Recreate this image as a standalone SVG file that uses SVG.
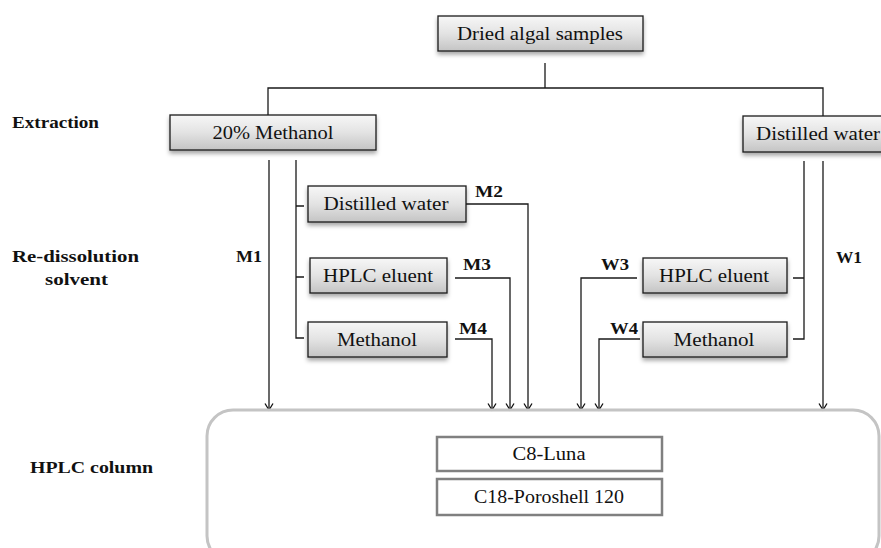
<svg xmlns="http://www.w3.org/2000/svg" width="881" height="548" viewBox="0 0 881 548">
<defs>
<linearGradient id="g" x1="0" y1="0" x2="0" y2="1">
<stop offset="0" stop-color="#f7f7f7"/>
<stop offset="0.5" stop-color="#e3e3e3"/>
<stop offset="1" stop-color="#c4c4c4"/>
</linearGradient>
<filter id="sh" x="-10%" y="-20%" width="120%" height="160%">
<feDropShadow dx="0" dy="3" stdDeviation="2" flood-color="#000" flood-opacity="0.35"/>
</filter>
<marker id="ar" markerWidth="10" markerHeight="10" refX="8.5" refY="5" orient="auto" markerUnits="userSpaceOnUse" viewBox="0 0 10 10">
<path d="M2,1 L8.5,5 L2,9" fill="none" stroke="#111" stroke-width="1.3"/>
</marker>
</defs>
<style>
.box{fill:url(#g);stroke:#1a1a1a;stroke-width:1.3;filter:url(#sh)}
.col{fill:#fff;stroke:#808080;stroke-width:2.5}
.t{font-family:"Liberation Serif","Times New Roman",serif;font-size:19px;fill:#111;text-anchor:middle}
.b{font-family:"Liberation Serif","Times New Roman",serif;font-size:17px;font-weight:bold;fill:#111}
.ln{fill:none;stroke:#1a1a1a;stroke-width:1.3}
.arr{marker-end:url(#ar)}
</style>
<rect width="881" height="548" fill="#fff"/>

<g id="labels">
<text class="b" x="12" y="128" textLength="87" lengthAdjust="spacingAndGlyphs">Extraction</text>
<text class="b" x="12" y="262" textLength="127" lengthAdjust="spacingAndGlyphs">Re-dissolution</text>
<text class="b" x="45" y="285" textLength="63" lengthAdjust="spacingAndGlyphs">solvent</text>
<text class="b" x="30" y="473" textLength="123" lengthAdjust="spacingAndGlyphs">HPLC column</text>
<text class="b" x="236" y="262" textLength="26" lengthAdjust="spacingAndGlyphs">M1</text>
<text class="b" x="475" y="197" textLength="28" lengthAdjust="spacingAndGlyphs">M2</text>
<text class="b" x="463" y="270" textLength="28" lengthAdjust="spacingAndGlyphs">M3</text>
<text class="b" x="459" y="334" textLength="28" lengthAdjust="spacingAndGlyphs">M4</text>
<text class="b" x="601" y="270" textLength="28" lengthAdjust="spacingAndGlyphs">W3</text>
<text class="b" x="610" y="334" textLength="28" lengthAdjust="spacingAndGlyphs">W4</text>
<text class="b" x="836" y="263" textLength="26" lengthAdjust="spacingAndGlyphs">W1</text>
</g>

<g id="connectors">
<path class="ln" d="M545,63 V88 M268,115 V88 H823 V116"/>
<path class="ln arr" d="M269,160 V410"/>
<path class="ln" d="M296,160 V338 H304 M296,206 H304 M296,277 H304"/>
<path class="ln arr" d="M466,204 H528 V410"/>
<path class="ln arr" d="M455,278 H510 V410"/>
<path class="ln arr" d="M455,339 H492 V410"/>
<path class="ln arr" d="M637,278 H581 V410"/>
<path class="ln arr" d="M640,339 H599 V410"/>
<path class="ln" d="M804,161 V339 H793 M804,278 H793"/>
<path class="ln arr" d="M823,161 V410"/>
</g>

<g id="n-dried"><rect class="box" x="438" y="16" width="205" height="35"/><text class="t" x="540" y="40" textLength="166" lengthAdjust="spacingAndGlyphs">Dried algal samples</text></g>
<g id="n-meth20"><rect class="box" x="170" y="115" width="206" height="35"/><text class="t" x="273" y="139" textLength="121" lengthAdjust="spacingAndGlyphs">20% Methanol</text></g>
<g id="n-water"><rect class="box" x="743" y="116" width="160" height="36"/><text class="t" x="818" y="140" textLength="124" lengthAdjust="spacingAndGlyphs">Distilled water</text></g>
<g id="n-m-water"><rect class="box" x="308" y="186" width="158" height="36"/><text class="t" x="386" y="210" textLength="125" lengthAdjust="spacingAndGlyphs">Distilled water</text></g>
<g id="n-m-hplc"><rect class="box" x="310" y="258" width="137" height="35"/><text class="t" x="378" y="282" textLength="110" lengthAdjust="spacingAndGlyphs">HPLC eluent</text></g>
<g id="n-m-meth"><rect class="box" x="308" y="322" width="139" height="35"/><text class="t" x="377" y="346" textLength="80" lengthAdjust="spacingAndGlyphs">Methanol</text></g>
<g id="n-w-hplc"><rect class="box" x="643" y="258" width="144" height="35"/><text class="t" x="714" y="282" textLength="110" lengthAdjust="spacingAndGlyphs">HPLC eluent</text></g>
<g id="n-w-meth"><rect class="box" x="643" y="322" width="144" height="35"/><text class="t" x="714" y="346" textLength="81" lengthAdjust="spacingAndGlyphs">Methanol</text></g>

<g id="n-column">
<rect x="207" y="410" width="672" height="152" rx="26" fill="none" stroke="#c4c4c4" stroke-width="3"/>
</g>
<g id="n-c8"><rect class="col" x="437" y="437" width="225" height="34"/><text class="t" x="549" y="460" textLength="73" lengthAdjust="spacingAndGlyphs">C8-Luna</text></g>
<g id="n-c18"><rect class="col" x="437" y="479" width="225" height="36"/><text class="t" x="549" y="503" textLength="150" lengthAdjust="spacingAndGlyphs">C18-Poroshell 120</text></g>
</svg>
